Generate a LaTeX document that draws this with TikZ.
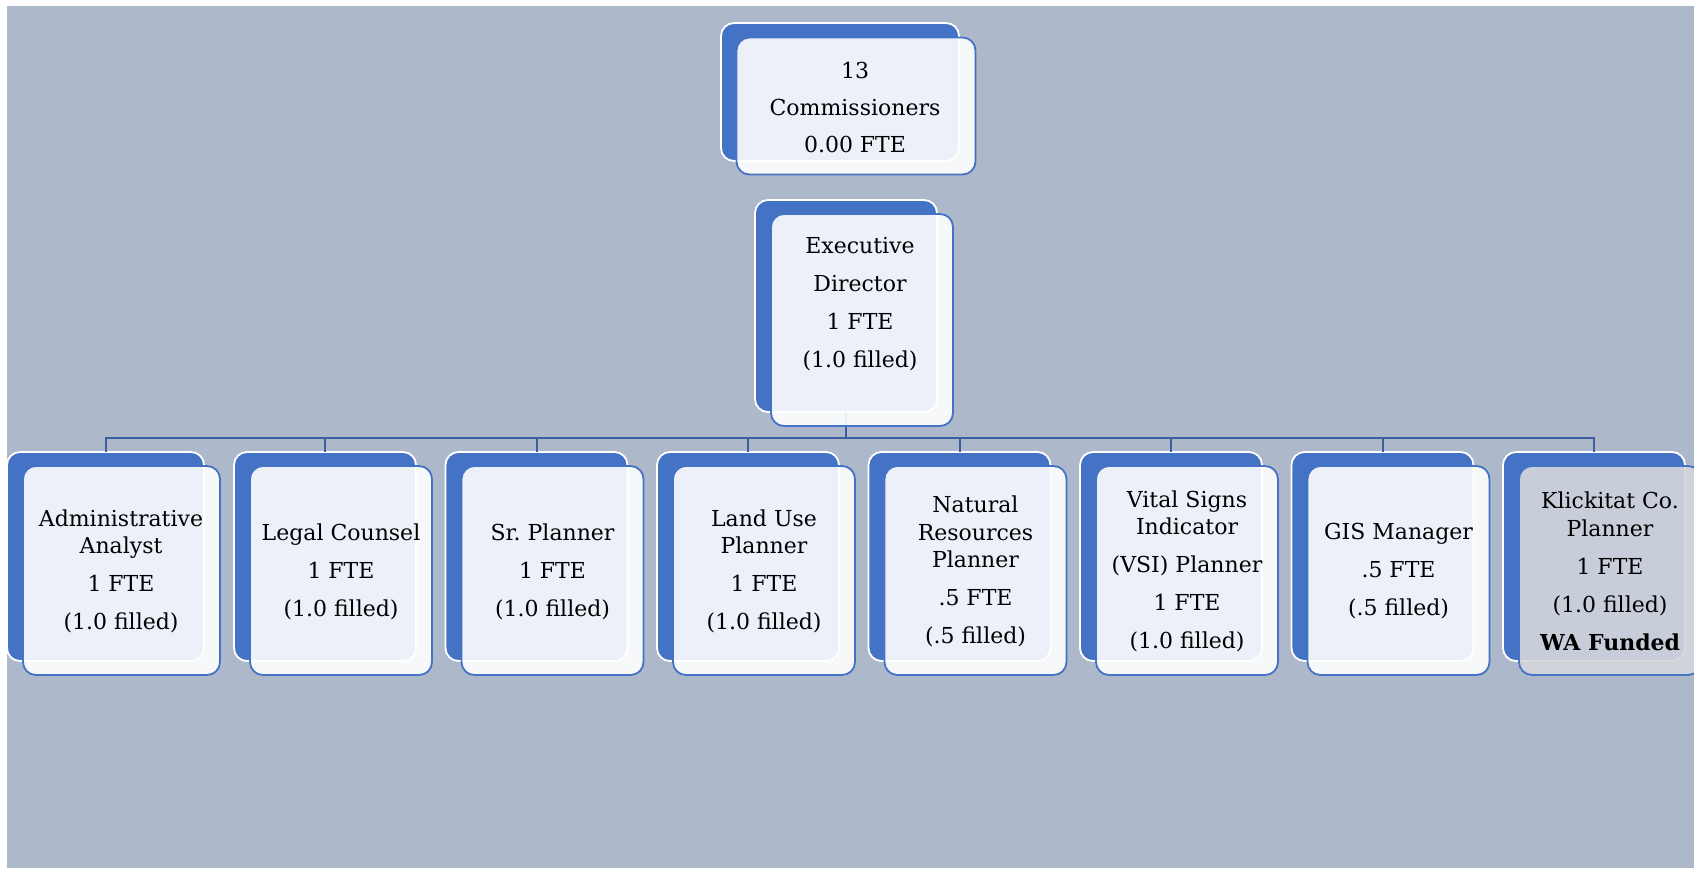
\documentclass[tikz,border=0pt]{standalone}
\usepackage{fontspec}
\setmainfont{DejaVu Serif}
\frenchspacing
\definecolor{bg}{RGB}{173,185,202}
\definecolor{acc}{RGB}{68,114,196}
\definecolor{ln}{RGB}{59,94,160}
\definecolor{kl}{RGB}{212,214,219}
\tikzset{
  backbox/.style={draw=white, line width=1.8pt, fill=acc, rounded corners=13pt, inner sep=0pt, outer sep=0pt},
  frontbox/.style={draw=acc, line width=1.8pt, fill=white, fill opacity=0.9, rounded corners=13pt, inner sep=0pt, outer sep=0pt},
  klbox/.style={frontbox, fill=kl, fill opacity=0.92},
  childsize/.style={minimum width=182pt, minimum height=209pt},
  lbl/.style={align=center, inner sep=0pt, font=\fontsize{22}{27.5}\selectfont, text=black},
  conn/.style={draw=ln, line width=2pt, line join=miter},
}
\begin{document}
\begin{tikzpicture}[x=1pt,y=-1pt]
\useasboundingbox (0,0) rectangle (1694,870);
\fill[white] (0,0) rectangle (1694,870);
\fill[bg] (7,6) rectangle (1694,868);
\coordinate (bar) at (0,438);
% back boxes
\node[backbox, minimum width=238pt, minimum height=138pt] (bC) at (840,92) {};
\node[backbox, minimum width=182pt, minimum height=212pt] (bE) at (846,306) {};
\node[backbox, childsize, minimum width=197pt] (bA) at (105.5,556.5) {};
\node[backbox, childsize] (bL) at (325,556.5) {};
\node[backbox, childsize] (bS) at (536.5,556.5) {};
\node[backbox, childsize] (bU) at (748,556.5) {};
\node[backbox, childsize] (bN) at (959.5,556.5) {};
\node[backbox, childsize] (bV) at (1171,556.5) {};
\node[backbox, childsize] (bG) at (1382.5,556.5) {};
\node[backbox, childsize] (bK) at (1594,556.5) {};
% connectors
\foreach \c in {bA,bL,bS,bU,bN,bV,bG,bK}{
  \draw[conn] (bE.south) -- (bE.south |- bar) -| (\c.north);
}
% front boxes
\node[frontbox, minimum width=239pt, minimum height=137pt] (fC) at (856,106) {};
\node[frontbox, minimum width=182pt, minimum height=212pt] (fE) at (862,320) {};
\node[frontbox, childsize, minimum width=197pt] (fA) at (121.5,570.5) {};
\node[frontbox, childsize] (fL) at (341,570.5) {};
\node[frontbox, childsize] (fS) at (552.5,570.5) {};
\node[frontbox, childsize] (fU) at (764,570.5) {};
\node[frontbox, childsize] (fN) at (975.5,570.5) {};
\node[frontbox, childsize] (fV) at (1187,570.5) {};
\node[frontbox, childsize] (fG) at (1398.5,570.5) {};
\node[klbox, childsize] (fK) at (1610,570.5) {};
% labels
\node[lbl] (tC) at (855,107.5) {13\\[9.5pt]Commissioners\\[9.5pt]0.00 FTE};
\node[lbl] (tE) at (860,304) {Executive\\[10.5pt]Director\\[10.5pt]1 FTE\\[10.5pt](1.0 filled)};
\node[lbl] (tA) at (121,571.5) {Administrative\\Analyst\\[10.5pt]1 FTE\\[10.5pt](1.0 filled)};
\node[lbl] (tL) at (341,571.5) {Legal Counsel\\[10.5pt]1 FTE\\[10.5pt](1.0 filled)};
\node[lbl] (tS) at (552.5,571.5) {Sr. Planner\\[10.5pt]1 FTE\\[10.5pt](1.0 filled)};
\node[lbl] (tU) at (764,571.5) {Land Use\\Planner\\[10.5pt]1 FTE\\[10.5pt](1.0 filled)};
\node[lbl] (tN) at (975.5,571.5) {Natural\\Resources\\Planner\\[10.5pt].5 FTE\\[10.5pt](.5 filled)};
\node[lbl] (tV) at (1187,571.5) {Vital Signs\\Indicator\\[10.5pt](VSI) Planner\\[10.5pt]1 FTE\\[10.5pt](1.0 filled)};
\node[lbl] (tG) at (1398.5,571.5) {GIS Manager\\[10.5pt].5 FTE\\[10.5pt](.5 filled)};
\node[lbl] (tK) at (1610,571.5) {Klickitat Co.\\Planner\\[10.5pt]1 FTE\\[10.5pt](1.0 filled)\\[10.5pt]\textbf{WA Funded}};
\end{tikzpicture}
\end{document}
